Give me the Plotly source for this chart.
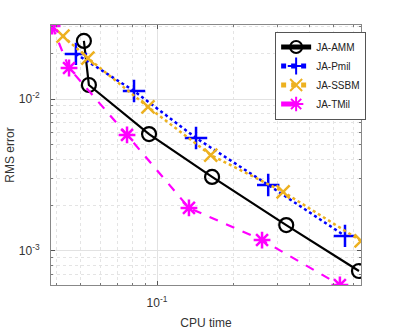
import plotly.graph_objects as go

# CPU time / RMS error per method
amm_t = [0.0514, 0.0538, 0.093, 0.165, 0.324, 0.628]
amm_e = [0.0241, 0.01236, 0.00588, 0.00307, 0.00148, 0.000738]

pmil_t = [0.0478, 0.0811, 0.1426, 0.275, 0.553]
pmil_e = [0.0198, 0.0113, 0.00554, 0.00272, 0.001256]

ssbm_t = [0.0425, 0.0533, 0.0921, 0.163, 0.315, 0.64]
ssbm_e = [0.0259, 0.0186, 0.00886, 0.00428, 0.00245, 0.001164]

tmil_t = [0.0385, 0.0449, 0.0761, 0.1337, 0.260, 0.528]
tmil_e = [0.0302, 0.016, 0.0058, 0.00192, 0.00118, 0.000597]

minor_x = [k * 0.01 for k in range(2, 10)] + [k * 0.1 for k in range(2, 10)]
minor_y = [k * 1e-4 for k in range(2, 10)] + [k * 1e-3 for k in range(2, 10)] + [k * 1e-2 for k in range(2, 10)]

fig = go.Figure()
fig.add_trace(go.Scatter(x=amm_t, y=amm_e, name="JA-AMM", mode="lines+markers",
                         line=dict(color="black", width=2.2),
                         marker=dict(symbol="circle-open", size=14, color="black",
                                     line=dict(width=2.2))))
fig.add_trace(go.Scatter(x=pmil_t, y=pmil_e, name="JA-Pmil", mode="lines+markers",
                         line=dict(color="#0000FF", width=2.5, dash="dot"),
                         marker=dict(symbol="cross-thin-open", size=16, color="#0000FF",
                                     line=dict(width=2.5, color="#0000FF"))))
fig.add_trace(go.Scatter(x=ssbm_t, y=ssbm_e, name="JA-SSBM", mode="lines+markers",
                         line=dict(color="#EDB120", width=2.5, dash="dot"),
                         marker=dict(symbol="x-thin-open", size=13, color="#EDB120",
                                     line=dict(width=2.5, color="#EDB120"))))
fig.add_trace(go.Scatter(x=tmil_t, y=tmil_e, name="JA-TMil", mode="lines+markers",
                         line=dict(color="#FF00FF", width=2.2, dash="dash"),
                         marker=dict(symbol="asterisk-open", size=14, color="#FF00FF",
                                     line=dict(width=2.5, color="#FF00FF"))))

axis_common = dict(type="log", showline=True, linecolor="#888888", linewidth=1,
                   mirror="allticks", ticks="inside", ticklen=4, tickcolor="#555555",
                   showgrid=True, gridcolor="#e2e2e2", gridwidth=1, zeroline=False,
                   tickfont=dict(size=12, color="#333333"))

fig.update_xaxes(**axis_common, range=[-1.419, -0.194],
                 tickvals=[0.1], ticktext=["10<sup>-1</sup>"], ticklabelstandoff=7,
                 minor=dict(tickmode="array", tickvals=minor_x, ticks="inside", ticklen=2,
                            tickcolor="#777777", showgrid=True, gridcolor="#e4e4e4",
                            griddash="dot"),
                 title=dict(text="CPU time", font=dict(size=12, color="#333333"), standoff=9))
fig.update_yaxes(**axis_common, range=[-3.224, -1.513],
                 tickvals=[0.001, 0.01], ticktext=["10<sup>-3</sup>", "10<sup>-2</sup>"],
                 ticklabelstandoff=8,
                 minor=dict(tickmode="array", tickvals=minor_y, ticks="inside", ticklen=2,
                            tickcolor="#777777", showgrid=True, gridcolor="#e4e4e4",
                            griddash="dot"),
                 title=dict(text="RMS error", font=dict(size=12, color="#333333"), standoff=1))

fig.update_layout(
    width=399, height=330,
    margin=dict(l=51, r=38, t=25, b=45, autoexpand=False),
    paper_bgcolor="white", plot_bgcolor="white",
    font=dict(family="Liberation Sans, Arial, sans-serif"),
    showlegend=True,
    legend=dict(x=0.723, y=0.975, xanchor="left", yanchor="top",
                bgcolor="white", bordercolor="#555555", borderwidth=1,
                font=dict(size=10, color="#222222"), itemwidth=30,
                tracegroupgap=0, itemsizing="constant"),
)

fig.write_html("out.html", config={"displayModeBar": False},
               post_script="document.body.style.margin='0';")
